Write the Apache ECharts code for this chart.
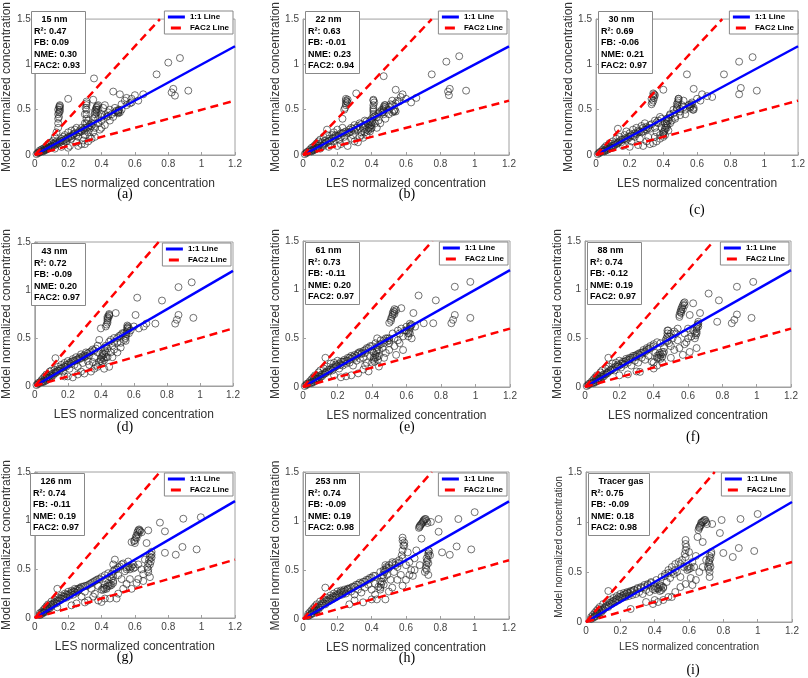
<!DOCTYPE html>
<html><head><meta charset="utf-8">
<script src="https://cdn.jsdelivr.net/npm/echarts@6/dist/echarts.min.js"></script>
<style>html,body{margin:0;padding:0;background:#fff}#c{width:808px;height:678px}</style>
</head><body><div id="c"></div>
<script>
// ---------- data ----------
const panelNames = ['15 nm','22 nm','30 nm','43 nm','61 nm','88 nm','126 nm','253 nm','Tracer gas'];
const r2Values   = ['0.47','0.63','0.69','0.72','0.73','0.74','0.74','0.74','0.75'];
const fbValues   = ['0.09','-0.01','-0.06','-0.09','-0.11','-0.12','-0.11','-0.09','-0.09'];
const nmeValues  = ['0.30','0.23','0.21','0.20','0.20','0.19','0.19','0.19','0.18'];
const fac2Values = ['0.93','0.94','0.97','0.97','0.97','0.97','0.97','0.98','0.98'];
const captions   = ['(a)','(b)','(c)','(d)','(e)','(f)','(g)','(h)','(i)'];
const xTickValues = [0,0.2,0.4,0.6,0.8,1,1.2];
const yTickValues = [0,0.5,1,1.5];
const oneToOneLine = [[0,0],[1.2,1.2]];
const fac2Upper = [[0,0],[0.75,1.5]];
const fac2Lower = [[0,0],[1.2,0.6]];

const dataA = [[0.01,0.01],[0.02,0.02],[0.02,0.03],[0.03,0.03],[0.03,0.05],[0.04,0.04],[0.04,0.06],[0.05,0.05],[0.05,0.07],[0.06,0.06],[0.06,0.08],[0.07,0.07],[0.07,0.1],[0.08,0.08],[0.08,0.12],[0.09,0.09],[0.09,0.13],[0.1,0.1],[0.1,0.14],[0.11,0.12],[0.11,0.16],[0.12,0.13],[0.12,0.2],[0.13,0.15],[0.13,0.25],[0.14,0.3],[0.14,0.35],[0.14,0.45],[0.14,0.5],[0.15,0.48],[0.15,0.52],[0.15,0.54],[0.15,0.16],[0.16,0.18],[0.17,0.2],[0.17,0.13],[0.18,0.22],[0.19,0.15],[0.2,0.2],[0.2,0.25],[0.2,0.62],[0.21,0.1],[0.22,0.18],[0.22,0.27],[0.23,0.22],[0.24,0.28],[0.25,0.14],[0.25,0.3],[0.26,0.2],[0.27,0.25],[0.28,0.12],[0.28,0.3],[0.29,0.16],[0.3,0.22],[0.3,0.35],[0.3,0.45],[0.31,0.5],[0.31,0.55],[0.31,0.59],[0.31,0.3],[0.32,0.38],[0.32,0.25],[0.33,0.33],[0.33,0.2],[0.34,0.35],[0.35,0.4],[0.35,0.61],[0.355,0.845],[0.36,0.3],[0.36,0.45],[0.37,0.5],[0.37,0.53],[0.38,0.55],[0.38,0.4],[0.38,0.35],[0.39,0.28],[0.4,0.45],[0.4,0.38],[0.41,0.52],[0.42,0.55],[0.43,0.42],[0.44,0.47],[0.45,0.5],[0.47,0.7],[0.48,0.52],[0.5,0.48],[0.5,0.49],[0.51,0.47],[0.51,0.67],[0.52,0.56],[0.54,0.6],[0.55,0.63],[0.57,0.57],[0.58,0.62],[0.6,0.66],[0.62,0.6],[0.65,0.67],[0.73,0.89],[0.80,1.02],[0.82,0.69],[0.83,0.73],[0.84,0.655],[0.87,1.07],[0.92,0.71],
 [0.145,0.47],[0.15,0.5],[0.145,0.53],[0.15,0.55],[0.14,0.4],[0.145,0.42],[0.31,0.35],[0.31,0.4],[0.31,0.45],[0.305,0.52],[0.31,0.57],[0.3,0.27],[0.36,0.48],[0.365,0.5],[0.37,0.52],[0.375,0.54],[0.38,0.5],[0.37,0.47],[0.36,0.42],[0.49,0.49],[0.5,0.47],[0.505,0.5],[0.5,0.46],
 [0.05,0.04],[0.06,0.05],[0.07,0.06],[0.08,0.07],[0.09,0.08],[0.1,0.09],[0.11,0.1],[0.12,0.11],[0.13,0.12],[0.14,0.13],[0.15,0.14],[0.16,0.15],[0.17,0.16],[0.18,0.17],[0.19,0.18],[0.2,0.19],[0.21,0.2],[0.22,0.21],[0.23,0.23],[0.24,0.24],[0.25,0.22],[0.26,0.25],[0.27,0.27],[0.28,0.26],[0.29,0.28],[0.3,0.3],[0.32,0.31],[0.33,0.29],[0.34,0.32],[0.35,0.34],[0.4,0.42],[0.42,0.44],[0.44,0.43],[0.46,0.45],[0.48,0.47],[0.3,0.12],[0.32,0.15],[0.34,0.18],[0.36,0.2],[0.26,0.1],[0.2,0.08],[0.16,0.09],[0.12,0.07],[0.35,0.25],[0.4,0.3],[0.42,0.33],[0.45,0.38],[0.47,0.42],[0.52,0.5],[0.55,0.55],[0.58,0.58]];
const dataB = [[0.01,0.01],[0.02,0.02],[0.02,0.03],[0.03,0.04],[0.04,0.04],[0.04,0.06],[0.05,0.05],[0.05,0.08],[0.06,0.06],[0.06,0.09],[0.07,0.07],[0.07,0.11],[0.08,0.08],[0.08,0.13],[0.09,0.1],[0.09,0.15],[0.1,0.07],[0.1,0.12],[0.1,0.17],[0.11,0.14],[0.12,0.2],[0.12,0.1],[0.13,0.16],[0.14,0.28],[0.14,0.22],[0.15,0.18],[0.16,0.12],[0.17,0.22],[0.18,0.25],[0.18,0.15],[0.19,0.2],[0.2,0.28],[0.21,0.17],[0.22,0.24],[0.23,0.4],[0.23,0.3],[0.24,0.2],[0.24,0.5],[0.25,0.55],[0.25,0.6],[0.26,0.58],[0.26,0.1],[0.27,0.25],[0.28,0.3],[0.29,0.22],[0.3,0.15],[0.3,0.33],[0.31,0.68],[0.32,0.14],[0.32,0.28],[0.33,0.35],[0.34,0.25],[0.35,0.19],[0.35,0.3],[0.36,0.38],[0.37,0.22],[0.38,0.3],[0.39,0.26],[0.39,0.35],[0.4,0.3],[0.4,0.4],[0.41,0.45],[0.41,0.5],[0.41,0.55],[0.41,0.61],[0.42,0.35],[0.43,0.42],[0.44,0.38],[0.45,0.48],[0.46,0.5],[0.47,0.53],[0.47,0.87],[0.47,0.45],[0.48,0.55],[0.5,0.5],[0.51,0.56],[0.52,0.6],[0.53,0.48],[0.54,0.72],[0.55,0.6],[0.57,0.64],[0.58,0.67],[0.6,0.62],[0.63,0.58],[0.66,0.63],[0.75,0.89],[0.835,1.03],[0.845,0.7],[0.85,0.66],[0.855,0.73],[0.91,1.09],[0.95,0.71],
 [0.245,0.52],[0.25,0.57],[0.255,0.59],[0.26,0.61],[0.25,0.62],[0.405,0.38],[0.41,0.42],[0.41,0.48],[0.41,0.52],[0.415,0.58],[0.41,0.6],[0.38,0.27],[0.385,0.3],[0.39,0.32],[0.395,0.29],[0.4,0.33],[0.4,0.36],[0.39,0.38],[0.38,0.34],[0.37,0.28],[0.36,0.25],[0.465,0.47],[0.47,0.49],[0.47,0.51],[0.475,0.55],[0.48,0.53],[0.52,0.47],[0.53,0.49],[0.535,0.5],[0.54,0.48],
 [0.05,0.04],[0.06,0.05],[0.07,0.06],[0.08,0.07],[0.09,0.08],[0.11,0.1],[0.12,0.12],[0.13,0.13],[0.14,0.14],[0.15,0.15],[0.16,0.16],[0.17,0.18],[0.18,0.19],[0.19,0.22],[0.2,0.21],[0.21,0.22],[0.22,0.2],[0.23,0.24],[0.24,0.25],[0.25,0.26],[0.26,0.24],[0.27,0.28],[0.28,0.26],[0.29,0.29],[0.3,0.27],[0.31,0.3],[0.32,0.32],[0.33,0.3],[0.34,0.34],[0.36,0.33],[0.37,0.37],[0.42,0.43],[0.44,0.46],[0.46,0.47],[0.5,0.53],[0.52,0.55],[0.54,0.57],[0.56,0.59],[0.33,0.2],[0.34,0.22],[0.28,0.18],[0.25,0.15],[0.22,0.12],[0.2,0.1],[0.15,0.09],[0.43,0.3],[0.45,0.35],[0.48,0.4],[0.5,0.45]];
const dataC = [[0.01,0.01],[0.02,0.02],[0.02,0.03],[0.03,0.04],[0.04,0.04],[0.04,0.06],[0.05,0.05],[0.05,0.08],[0.06,0.07],[0.06,0.1],[0.07,0.08],[0.08,0.09],[0.08,0.13],[0.09,0.1],[0.1,0.08],[0.1,0.15],[0.11,0.13],[0.12,0.18],[0.13,0.29],[0.13,0.14],[0.14,0.2],[0.15,0.17],[0.16,0.1],[0.17,0.22],[0.18,0.26],[0.19,0.18],[0.2,0.24],[0.21,0.15],[0.22,0.28],[0.23,0.2],[0.24,0.3],[0.25,0.25],[0.26,0.18],[0.27,0.32],[0.28,0.1],[0.28,0.26],[0.29,0.35],[0.3,0.28],[0.31,0.2],[0.32,0.33],[0.33,0.56],[0.33,0.62],[0.34,0.65],[0.34,0.68],[0.34,0.13],[0.35,0.38],[0.35,0.3],[0.36,0.25],[0.37,0.35],[0.38,0.18],[0.38,0.42],[0.39,0.3],[0.4,0.72],[0.4,0.25],[0.41,0.22],[0.41,0.3],[0.42,0.35],[0.42,0.4],[0.43,0.27],[0.44,0.45],[0.45,0.38],[0.46,0.5],[0.47,0.42],[0.48,0.5],[0.48,0.56],[0.49,0.62],[0.5,0.48],[0.51,0.55],[0.52,0.6],[0.53,0.5],[0.54,0.89],[0.55,0.55],[0.56,0.52],[0.57,0.56],[0.58,0.73],[0.58,0.5],[0.6,0.62],[0.62,0.6],[0.63,0.67],[0.66,0.65],[0.69,0.64],[0.76,0.89],[0.85,1.03],[0.85,0.67],[0.86,0.74],[0.93,1.08],[0.955,0.71],
 [0.335,0.58],[0.34,0.6],[0.345,0.63],[0.35,0.66],[0.345,0.67],[0.4,0.23],[0.405,0.26],[0.41,0.28],[0.415,0.32],[0.42,0.3],[0.42,0.37],[0.425,0.33],[0.43,0.38],[0.43,0.41],[0.41,0.35],[0.48,0.52],[0.485,0.54],[0.485,0.58],[0.49,0.6],[0.49,0.62],[0.555,0.53],[0.56,0.56],[0.565,0.54],[0.57,0.58],[0.575,0.5],[0.58,0.52],
 [0.05,0.04],[0.06,0.05],[0.07,0.06],[0.08,0.07],[0.09,0.08],[0.1,0.1],[0.11,0.11],[0.12,0.12],[0.13,0.13],[0.14,0.15],[0.15,0.14],[0.16,0.17],[0.17,0.18],[0.18,0.17],[0.19,0.2],[0.2,0.2],[0.21,0.22],[0.22,0.21],[0.23,0.24],[0.24,0.23],[0.25,0.27],[0.26,0.26],[0.27,0.25],[0.28,0.3],[0.29,0.28],[0.3,0.31],[0.31,0.3],[0.32,0.29],[0.33,0.34],[0.36,0.36],[0.37,0.38],[0.39,0.4],[0.44,0.44],[0.46,0.46],[0.5,0.51],[0.52,0.53],[0.3,0.15],[0.32,0.12],[0.36,0.15],[0.35,0.2],[0.38,0.22],[0.4,0.2],[0.2,0.09],[0.25,0.11],[0.44,0.35],[0.47,0.4],[0.5,0.44],[0.53,0.45]];
const dataD = [[0.01,0.01],[0.02,0.02],[0.02,0.03],[0.03,0.04],[0.04,0.04],[0.04,0.06],[0.05,0.05],[0.05,0.08],[0.06,0.07],[0.06,0.1],[0.07,0.08],[0.07,0.12],[0.08,0.09],[0.09,0.11],[0.09,0.15],[0.1,0.1],[0.1,0.16],[0.11,0.13],[0.12,0.17],[0.125,0.29],[0.13,0.15],[0.14,0.2],[0.15,0.18],[0.16,0.22],[0.17,0.15],[0.18,0.1],[0.18,0.24],[0.19,0.2],[0.2,0.26],[0.21,0.18],[0.22,0.25],[0.23,0.09],[0.23,0.28],[0.24,0.22],[0.25,0.3],[0.26,0.2],[0.27,0.28],[0.28,0.33],[0.29,0.24],[0.3,0.13],[0.3,0.3],[0.31,0.35],[0.32,0.26],[0.33,0.32],[0.34,0.15],[0.35,0.38],[0.36,0.3],[0.37,0.22],[0.38,0.42],[0.38,0.35],[0.39,0.48],[0.4,0.28],[0.4,0.6],[0.41,0.32],[0.41,0.25],[0.42,0.18],[0.42,0.4],[0.43,0.3],[0.43,0.62],[0.44,0.68],[0.44,0.72],[0.45,0.74],[0.45,0.46],[0.45,0.2],[0.46,0.35],[0.47,0.42],[0.48,0.5],[0.49,0.76],[0.5,0.45],[0.51,0.52],[0.52,0.4],[0.53,0.55],[0.54,0.48],[0.55,0.5],[0.555,0.56],[0.56,0.6],[0.56,0.63],[0.57,0.55],[0.58,0.58],[0.6,0.62],[0.61,0.74],[0.62,0.92],[0.63,0.6],[0.66,0.62],[0.675,0.65],[0.73,0.65],[0.77,0.89],[0.85,0.65],[0.86,0.69],[0.87,0.74],[0.87,1.03],[0.95,1.08],[0.96,0.71],
 [0.435,0.64],[0.44,0.66],[0.44,0.7],[0.445,0.71],[0.45,0.73],[0.45,0.75],[0.55,0.47],[0.55,0.52],[0.555,0.54],[0.56,0.58],[0.56,0.61],[0.565,0.62],[0.57,0.6],[0.4,0.26],[0.405,0.3],[0.41,0.34],[0.415,0.29],[0.42,0.27],[0.42,0.33],[0.425,0.37],[0.43,0.35],[0.43,0.42],[0.44,0.39],[0.44,0.3],
 [0.05,0.04],[0.06,0.05],[0.07,0.06],[0.08,0.08],[0.09,0.09],[0.1,0.12],[0.11,0.11],[0.12,0.13],[0.13,0.14],[0.14,0.16],[0.15,0.16],[0.16,0.18],[0.17,0.19],[0.18,0.2],[0.19,0.22],[0.2,0.22],[0.21,0.24],[0.22,0.23],[0.23,0.26],[0.24,0.26],[0.25,0.27],[0.26,0.28],[0.27,0.3],[0.28,0.29],[0.29,0.31],[0.3,0.32],[0.31,0.31],[0.32,0.34],[0.33,0.35],[0.34,0.36],[0.36,0.37],[0.37,0.39],[0.46,0.48],[0.48,0.46],[0.5,0.5],[0.52,0.53],[0.54,0.55],[0.33,0.22],[0.35,0.25],[0.36,0.18],[0.38,0.2],[0.39,0.25],[0.47,0.3],[0.48,0.38],[0.5,0.35],[0.52,0.45],[0.2,0.1],[0.26,0.12],[0.28,0.15]];
const dataE = [[0.01,0.01],[0.02,0.02],[0.02,0.03],[0.03,0.04],[0.04,0.04],[0.04,0.06],[0.05,0.05],[0.05,0.08],[0.06,0.07],[0.06,0.1],[0.07,0.08],[0.07,0.12],[0.08,0.09],[0.09,0.11],[0.09,0.15],[0.1,0.1],[0.1,0.17],[0.11,0.13],[0.12,0.19],[0.13,0.3],[0.13,0.15],[0.14,0.21],[0.15,0.18],[0.16,0.24],[0.17,0.17],[0.18,0.12],[0.18,0.25],[0.19,0.21],[0.2,0.27],[0.21,0.19],[0.22,0.26],[0.23,0.22],[0.24,0.28],[0.25,0.11],[0.25,0.24],[0.26,0.3],[0.27,0.25],[0.28,0.32],[0.29,0.22],[0.3,0.3],[0.31,0.27],[0.32,0.14],[0.32,0.34],[0.33,0.29],[0.34,0.35],[0.35,0.3],[0.36,0.38],[0.37,0.25],[0.38,0.16],[0.38,0.4],[0.39,0.32],[0.4,0.42],[0.41,0.28],[0.41,0.35],[0.42,0.3],[0.42,0.45],[0.43,0.38],[0.43,0.5],[0.44,0.21],[0.44,0.32],[0.45,0.44],[0.46,0.4],[0.47,0.48],[0.48,0.35],[0.49,0.5],[0.5,0.45],[0.5,0.66],[0.51,0.7],[0.52,0.74],[0.53,0.77],[0.53,0.8],[0.53,0.5],[0.54,0.33],[0.55,0.48],[0.56,0.55],[0.57,0.81],[0.57,0.6],[0.58,0.38],[0.58,0.52],[0.59,0.58],[0.6,0.62],[0.61,0.55],[0.62,0.6],[0.62,0.65],[0.63,0.5],[0.64,0.76],[0.65,0.62],[0.67,0.94],[0.7,0.655],[0.755,0.655],[0.77,0.89],[0.86,0.655],[0.87,0.69],[0.88,0.74],[0.88,1.03],[0.97,1.08],[0.97,0.71],
 [0.51,0.68],[0.515,0.72],[0.52,0.76],[0.525,0.78],[0.53,0.75],[0.54,0.79],[0.61,0.52],[0.615,0.57],[0.62,0.62],[0.62,0.55],[0.625,0.63],[0.63,0.64],[0.6,0.58],[0.41,0.3],[0.415,0.26],[0.42,0.33],[0.425,0.36],[0.43,0.31],[0.43,0.41],[0.435,0.28],[0.44,0.38],[0.44,0.43],[0.47,0.45],[0.48,0.5],[0.49,0.47],[0.5,0.5],[0.5,0.48],
 [0.05,0.04],[0.06,0.05],[0.07,0.06],[0.08,0.08],[0.09,0.09],[0.1,0.12],[0.11,0.11],[0.12,0.13],[0.13,0.14],[0.14,0.16],[0.15,0.16],[0.16,0.18],[0.17,0.2],[0.18,0.2],[0.19,0.23],[0.2,0.22],[0.21,0.24],[0.22,0.23],[0.23,0.26],[0.24,0.26],[0.25,0.27],[0.26,0.27],[0.27,0.3],[0.28,0.29],[0.29,0.31],[0.3,0.33],[0.31,0.32],[0.32,0.35],[0.33,0.36],[0.34,0.34],[0.35,0.37],[0.36,0.35],[0.37,0.4],[0.39,0.42],[0.4,0.37],[0.45,0.48],[0.52,0.55],[0.55,0.58],[0.36,0.22],[0.35,0.18],[0.4,0.25],[0.47,0.3],[0.5,0.38],[0.53,0.42],[0.56,0.45],[0.28,0.12],[0.22,0.1]];
const dataF = [[0.01,0.01],[0.02,0.02],[0.02,0.03],[0.03,0.04],[0.04,0.04],[0.04,0.06],[0.05,0.05],[0.05,0.08],[0.06,0.07],[0.06,0.1],[0.07,0.08],[0.07,0.12],[0.08,0.09],[0.09,0.11],[0.09,0.15],[0.1,0.1],[0.1,0.17],[0.11,0.13],[0.12,0.19],[0.136,0.3],[0.13,0.15],[0.14,0.21],[0.15,0.18],[0.16,0.24],[0.17,0.17],[0.18,0.25],[0.19,0.21],[0.2,0.12],[0.2,0.27],[0.21,0.2],[0.22,0.26],[0.23,0.23],[0.24,0.29],[0.25,0.25],[0.26,0.3],[0.27,0.22],[0.28,0.32],[0.29,0.27],[0.3,0.33],[0.31,0.25],[0.32,0.155],[0.32,0.35],[0.33,0.3],[0.34,0.36],[0.35,0.28],[0.36,0.38],[0.37,0.32],[0.38,0.4],[0.39,0.26],[0.4,0.19],[0.4,0.42],[0.41,0.35],[0.42,0.3],[0.43,0.33],[0.44,0.29],[0.44,0.45],[0.45,0.36],[0.46,0.4],[0.47,0.48],[0.48,0.52],[0.48,0.58],[0.49,0.45],[0.5,0.42],[0.51,0.5],[0.52,0.38],[0.53,0.55],[0.54,0.48],[0.55,0.72],[0.56,0.76],[0.56,0.8],[0.57,0.84],[0.57,0.33],[0.58,0.87],[0.58,0.55],[0.59,0.46],[0.6,0.6],[0.61,0.36],[0.61,0.74],[0.62,0.52],[0.63,0.86],[0.63,0.58],[0.64,0.5],[0.65,0.4],[0.65,0.55],[0.65,0.62],[0.66,0.67],[0.67,0.76],[0.72,0.96],[0.77,0.67],[0.78,0.89],[0.855,0.655],[0.87,0.69],[0.885,0.745],[0.885,1.03],[0.97,0.71],[0.98,1.08],
 [0.55,0.74],[0.555,0.77],[0.56,0.78],[0.565,0.82],[0.57,0.8],[0.575,0.86],[0.58,0.84],[0.645,0.53],[0.65,0.57],[0.65,0.6],[0.655,0.64],[0.66,0.62],[0.66,0.65],[0.64,0.55],[0.475,0.5],[0.48,0.55],[0.485,0.58],[0.48,0.47],[0.49,0.52],[0.42,0.32],[0.43,0.3],[0.435,0.35],[0.44,0.33],[0.45,0.31],[0.455,0.34],[0.46,0.36],
 [0.05,0.04],[0.06,0.05],[0.07,0.06],[0.08,0.08],[0.09,0.09],[0.1,0.12],[0.11,0.11],[0.12,0.13],[0.13,0.14],[0.14,0.16],[0.15,0.17],[0.16,0.18],[0.17,0.2],[0.18,0.21],[0.19,0.23],[0.2,0.22],[0.21,0.24],[0.22,0.24],[0.23,0.26],[0.24,0.27],[0.25,0.28],[0.26,0.28],[0.27,0.3],[0.28,0.3],[0.29,0.32],[0.3,0.31],[0.31,0.34],[0.32,0.33],[0.33,0.35],[0.34,0.38],[0.35,0.36],[0.36,0.4],[0.37,0.39],[0.38,0.42],[0.4,0.44],[0.42,0.46],[0.5,0.55],[0.52,0.57],[0.54,0.6],[0.4,0.25],[0.42,0.22],[0.45,0.25],[0.5,0.3],[0.55,0.4],[0.58,0.44],[0.6,0.5],[0.3,0.16],[0.25,0.13]];
const dataG = [[0.03,0.03],[0.03,0.05],[0.04,0.04],[0.04,0.06],[0.05,0.05],[0.05,0.08],[0.06,0.06],[0.06,0.1],[0.07,0.08],[0.07,0.12],[0.08,0.09],[0.08,0.14],[0.09,0.1],[0.1,0.12],[0.1,0.17],[0.11,0.14],[0.12,0.19],[0.13,0.15],[0.135,0.3],[0.135,0.11],[0.14,0.21],[0.15,0.18],[0.16,0.23],[0.17,0.2],[0.18,0.25],[0.19,0.21],[0.2,0.27],[0.21,0.23],[0.22,0.13],[0.22,0.28],[0.23,0.24],[0.24,0.3],[0.25,0.26],[0.26,0.28],[0.27,0.3],[0.28,0.22],[0.29,0.32],[0.3,0.27],[0.31,0.33],[0.32,0.18],[0.33,0.35],[0.34,0.3],[0.35,0.37],[0.36,0.25],[0.37,0.39],[0.38,0.33],[0.39,0.4],[0.4,0.165],[0.4,0.29],[0.41,0.31],[0.42,0.34],[0.43,0.3],[0.44,0.36],[0.45,0.33],[0.45,0.42],[0.46,0.45],[0.47,0.38],[0.47,0.48],[0.47,0.55],[0.48,0.6],[0.49,0.2],[0.49,0.5],[0.5,0.44],[0.51,0.53],[0.52,0.4],[0.53,0.56],[0.54,0.48],[0.55,0.52],[0.56,0.58],[0.57,0.5],[0.58,0.78],[0.58,0.3],[0.59,0.55],[0.6,0.77],[0.61,0.82],[0.61,0.36],[0.62,0.86],[0.62,0.55],[0.63,0.9],[0.64,0.5],[0.65,0.45],[0.66,0.6],[0.67,0.77],[0.68,0.9],[0.68,0.5],[0.69,0.42],[0.69,0.55],[0.7,0.62],[0.7,0.68],[0.75,0.98],[0.78,0.89],[0.78,0.67],[0.845,0.65],[0.885,0.73],[0.89,1.02],[0.97,0.705],[0.995,1.035],
 [0.595,0.79],[0.6,0.8],[0.605,0.83],[0.61,0.85],[0.615,0.88],[0.62,0.9],[0.625,0.91],[0.63,0.89],[0.64,0.88],[0.675,0.52],[0.68,0.56],[0.685,0.6],[0.69,0.63],[0.69,0.66],[0.695,0.58],[0.7,0.65],[0.68,0.47],[0.41,0.29],[0.42,0.3],[0.43,0.32],[0.44,0.33],[0.45,0.35],[0.46,0.34],[0.47,0.36],[0.46,0.4],[0.47,0.43],[0.55,0.5],[0.56,0.53],[0.57,0.52],[0.58,0.53],[0.59,0.51],[0.6,0.52],
 [0.05,0.06],[0.06,0.07],[0.07,0.09],[0.08,0.1],[0.09,0.12],[0.1,0.14],[0.11,0.15],[0.12,0.16],[0.13,0.17],[0.14,0.18],[0.15,0.2],[0.16,0.2],[0.17,0.22],[0.18,0.22],[0.19,0.24],[0.2,0.24],[0.21,0.25],[0.22,0.26],[0.23,0.27],[0.24,0.27],[0.25,0.29],[0.26,0.3],[0.27,0.31],[0.28,0.32],[0.3,0.33],[0.32,0.34],[0.34,0.36],[0.36,0.38],[0.38,0.4],[0.4,0.42],[0.42,0.44],[0.44,0.46],[0.48,0.5],[0.5,0.52],[0.52,0.55],[0.35,0.22],[0.38,0.18],[0.42,0.2],[0.45,0.2],[0.5,0.25],[0.53,0.3],[0.55,0.35],[0.57,0.4],[0.3,0.16],[0.25,0.15],[0.62,0.4],[0.65,0.38]];
const dataH = [[0.03,0.03],[0.03,0.05],[0.04,0.04],[0.04,0.07],[0.05,0.05],[0.05,0.09],[0.06,0.06],[0.06,0.11],[0.07,0.08],[0.07,0.13],[0.08,0.09],[0.08,0.15],[0.09,0.1],[0.1,0.12],[0.1,0.18],[0.11,0.14],[0.12,0.2],[0.13,0.32],[0.13,0.15],[0.14,0.22],[0.15,0.18],[0.16,0.24],[0.17,0.2],[0.18,0.26],[0.19,0.22],[0.2,0.28],[0.21,0.24],[0.22,0.29],[0.23,0.25],[0.24,0.3],[0.25,0.26],[0.26,0.31],[0.27,0.15],[0.28,0.28],[0.29,0.33],[0.3,0.25],[0.31,0.35],[0.32,0.3],[0.33,0.37],[0.34,0.27],[0.35,0.38],[0.36,0.32],[0.37,0.4],[0.38,0.35],[0.39,0.42],[0.4,0.3],[0.41,0.44],[0.42,0.36],[0.43,0.2],[0.44,0.33],[0.45,0.38],[0.45,0.48],[0.46,0.42],[0.47,0.5],[0.47,0.35],[0.48,0.2],[0.48,0.55],[0.49,0.45],[0.5,0.52],[0.51,0.4],[0.52,0.56],[0.53,0.48],[0.54,0.58],[0.55,0.53],[0.56,0.6],[0.57,0.45],[0.58,0.34],[0.58,0.83],[0.58,0.62],[0.59,0.75],[0.6,0.55],[0.61,0.68],[0.62,0.58],[0.63,0.5],[0.64,0.44],[0.65,0.62],[0.66,0.7],[0.68,0.94],[0.69,0.82],[0.69,0.97],[0.7,1.0],[0.71,1.02],[0.72,0.5],[0.72,0.58],[0.73,0.45],[0.73,0.65],[0.73,0.7],[0.745,0.99],[0.79,0.89],[0.79,1.02],[0.81,0.68],[0.855,0.655],[0.895,0.74],[0.905,1.02],[0.98,0.71],[1.0,1.09],
 [0.675,0.93],[0.68,0.95],[0.685,0.96],[0.695,0.98],[0.7,0.99],[0.705,1.01],[0.715,1.02],[0.72,1.0],[0.725,0.98],[0.715,0.52],[0.72,0.55],[0.72,0.62],[0.725,0.6],[0.73,0.67],[0.73,0.57],[0.735,0.69],[0.74,0.65],[0.71,0.48],[0.45,0.32],[0.455,0.35],[0.46,0.38],[0.465,0.45],[0.47,0.42],[0.475,0.48],[0.48,0.5],[0.485,0.53],[0.49,0.52],[0.45,0.3],[0.575,0.65],[0.58,0.7],[0.585,0.75],[0.59,0.78],[0.58,0.8],
 [0.05,0.06],[0.06,0.08],[0.07,0.09],[0.08,0.1],[0.09,0.12],[0.1,0.14],[0.11,0.16],[0.12,0.16],[0.13,0.18],[0.14,0.19],[0.15,0.2],[0.16,0.21],[0.17,0.22],[0.18,0.23],[0.19,0.24],[0.2,0.25],[0.21,0.26],[0.22,0.27],[0.23,0.28],[0.24,0.28],[0.25,0.29],[0.26,0.3],[0.27,0.31],[0.28,0.32],[0.3,0.33],[0.32,0.35],[0.34,0.36],[0.36,0.38],[0.38,0.4],[0.4,0.42],[0.42,0.44],[0.5,0.55],[0.52,0.58],[0.54,0.55],[0.56,0.57],[0.4,0.2],[0.42,0.25],[0.5,0.28],[0.52,0.32],[0.55,0.4],[0.6,0.4],[0.62,0.45],[0.65,0.5],[0.35,0.17],[0.3,0.19],[0.68,0.55]];
const dataI = [[0.03,0.03],[0.03,0.05],[0.04,0.04],[0.04,0.07],[0.05,0.05],[0.05,0.09],[0.06,0.06],[0.06,0.11],[0.07,0.08],[0.07,0.13],[0.08,0.09],[0.08,0.15],[0.09,0.1],[0.1,0.12],[0.1,0.18],[0.11,0.14],[0.12,0.2],[0.13,0.31],[0.13,0.15],[0.14,0.22],[0.15,0.18],[0.16,0.24],[0.17,0.2],[0.18,0.26],[0.19,0.22],[0.2,0.28],[0.21,0.24],[0.22,0.29],[0.23,0.25],[0.24,0.3],[0.25,0.26],[0.26,0.13],[0.26,0.31],[0.27,0.27],[0.28,0.32],[0.29,0.28],[0.3,0.34],[0.31,0.3],[0.32,0.35],[0.33,0.28],[0.34,0.37],[0.35,0.32],[0.36,0.38],[0.37,0.3],[0.38,0.4],[0.39,0.18],[0.39,0.33],[0.4,0.36],[0.41,0.42],[0.42,0.34],[0.43,0.37],[0.44,0.45],[0.45,0.35],[0.46,0.48],[0.47,0.4],[0.48,0.52],[0.49,0.44],[0.5,0.25],[0.5,0.55],[0.51,0.48],[0.52,0.58],[0.53,0.5],[0.54,0.6],[0.55,0.45],[0.56,0.62],[0.57,0.55],[0.58,0.82],[0.58,0.65],[0.59,0.52],[0.6,0.7],[0.61,0.44],[0.62,0.37],[0.62,0.6],[0.63,0.55],[0.64,0.66],[0.65,0.85],[0.66,0.94],[0.67,0.97],[0.68,0.8],[0.68,1.0],[0.69,1.02],[0.7,0.62],[0.71,0.55],[0.72,0.45],[0.72,0.5],[0.72,0.66],[0.73,0.7],[0.735,0.98],[0.78,0.89],[0.79,1.02],[0.8,0.69],[0.855,0.65],[0.89,0.74],[0.9,1.03],[0.98,0.71],[1.0,1.08],
 [0.655,0.92],[0.66,0.95],[0.665,0.96],[0.67,0.99],[0.675,1.0],[0.685,1.01],[0.695,1.02],[0.7,1.0],[0.705,0.98],[0.715,0.53],[0.72,0.58],[0.72,0.62],[0.725,0.64],[0.73,0.68],[0.725,0.55],[0.715,0.6],[0.4,0.32],[0.41,0.34],[0.42,0.33],[0.43,0.35],[0.44,0.36],[0.45,0.34],[0.44,0.32],[0.43,0.31],[0.575,0.68],[0.58,0.72],[0.585,0.75],[0.58,0.78],[0.59,0.55],[0.6,0.56],[0.61,0.54],[0.6,0.53],
 [0.05,0.06],[0.06,0.08],[0.07,0.09],[0.08,0.11],[0.09,0.12],[0.1,0.13],[0.11,0.15],[0.12,0.16],[0.13,0.17],[0.14,0.19],[0.15,0.2],[0.16,0.21],[0.17,0.22],[0.18,0.23],[0.19,0.25],[0.2,0.25],[0.21,0.26],[0.22,0.27],[0.23,0.28],[0.24,0.29],[0.25,0.29],[0.26,0.3],[0.27,0.31],[0.28,0.32],[0.3,0.33],[0.32,0.34],[0.34,0.35],[0.36,0.37],[0.38,0.39],[0.46,0.46],[0.48,0.49],[0.5,0.5],[0.52,0.52],[0.55,0.58],[0.4,0.22],[0.42,0.2],[0.45,0.22],[0.48,0.25],[0.52,0.3],[0.55,0.35],[0.58,0.38],[0.64,0.42],[0.66,0.5],[0.68,0.55],[0.35,0.2]];
const panelData = [dataA,dataB,dataC,dataD,dataE,dataF,dataG,dataH,dataI];

// ---------- layout ----------
const layout = [
  {l:29,t:10,w:206,h:145, cx:125,cy:194},
  {l:303,t:10,w:206,h:145, cx:407,cy:194},
  {l:596,t:10,w:204,h:145, cx:697,cy:210},
  {l:29,t:242,w:204,h:144, cx:125,cy:427},
  {l:303,t:241,w:207,h:146, cx:407,cy:427},
  {l:585,t:241,w:206,h:146, cx:693,cy:437},
  {l:28,t:472,w:207,h:146, cx:125,cy:657},
  {l:303,t:472,w:206,h:147, cx:407,cy:658},
  {l:586,t:472,w:206,h:150, cx:693,cy:670}
];
const FONT = '"Liberation Sans", Arial, sans-serif';

const grid=[], xAxis=[], yAxis=[], series=[], legend=[], title=[], graphic=[];
layout.forEach((g,i)=>{
  const small = i===8;
  grid.push({left:g.l, top:g.t, width:g.w, height:g.h, show:true, borderColor:'#a0a0a0', borderWidth:1, backgroundColor:'#fff'});
  xAxis.push({type:'value', gridIndex:i, min:xTickValues[0], max:xTickValues[xTickValues.length-1], interval:0.2,
    name:'LES normalized concentration', nameLocation:'middle', nameGap: small?20:23,
    nameTextStyle:{fontSize: small?10.5:12, color:'#333', fontFamily:FONT},
    axisLine:{show:true, lineStyle:{color:'#a0a0a0'}}, axisTick:{inside:true, length:3, lineStyle:{color:'#a0a0a0'}},
    axisLabel:{fontSize:10, color:'#444', margin:4, fontFamily:FONT}, splitLine:{show:false}});
  yAxis.push({type:'value', gridIndex:i, min:yTickValues[0], max:yTickValues[yTickValues.length-1], interval:0.5,
    name:'Model normalized concentration', nameLocation:'middle', nameGap: small?20:21,
    nameTextStyle:{fontSize: small?10:12, color:'#333', fontFamily:FONT},
    axisLine:{show:true, lineStyle:{color:'#a0a0a0'}}, axisTick:{inside:true, length:3, lineStyle:{color:'#a0a0a0'}},
    axisLabel:{fontSize:10, color:'#444', margin:4, fontFamily:FONT}, splitLine:{show:false}});
  series.push({type:'scatter', xAxisIndex:i, yAxisIndex:i, data:panelData[i], symbol:'circle', symbolSize:7,
    itemStyle:{color:'rgba(0,0,0,0)', borderColor:'#222', borderWidth:0.8}, silent:true, z:2});
  series.push({type:'line', name:'1:1 Line', xAxisIndex:i, yAxisIndex:i, data:oneToOneLine, symbol:'none',
    lineStyle:{color:'#0000ff', width:2.5}, itemStyle:{color:'#0000ff'}, silent:true, z:3});
  series.push({type:'line', name:'FAC2 Line', xAxisIndex:i, yAxisIndex:i, data:fac2Upper, symbol:'none',
    lineStyle:{color:'#ff0000', width:2.5, type:[8,5]}, itemStyle:{color:'#ff0000'}, silent:true, z:3});
  series.push({type:'line', name:'FAC2 Line', xAxisIndex:i, yAxisIndex:i, data:fac2Lower, symbol:'none',
    lineStyle:{color:'#ff0000', width:2.5, type:[8,5]}, itemStyle:{color:'#ff0000'}, silent:true, z:3});
  legend.push({right:808-(g.l+g.w)+2, top:g.t+1, orient:'vertical', selectedMode:false,
    data:[{name:'1:1 Line', lineStyle:{color:'#0000ff', width:3, type:'solid'}},
          {name:'FAC2 Line', lineStyle:{color:'#ff0000', width:3, type:[0,3,10,20]}}],
    itemStyle:{color:'rgba(0,0,0,0)', borderWidth:0, opacity:0},
    itemWidth:17, itemHeight:8, itemGap:3, padding:[2,4,2,2], borderColor:'#888', borderWidth:1, backgroundColor:'#fff',
    textStyle:{fontSize:8, fontWeight:'bold', color:'#000', fontFamily:FONT}, z:10});
  title.push({left:g.l+2, top:g.t+1,
    text:'   '+panelNames[i]+'\nR²: '+r2Values[i]+'\nFB: '+fbValues[i]+'\nNME: '+nmeValues[i]+'\nFAC2: '+fac2Values[i],
    textStyle:{fontSize:9, fontWeight:'bold', color:'#000', lineHeight:11.5, fontFamily:FONT},
    borderColor:'#888', borderWidth:1, backgroundColor:'#fff', padding:[3,6,2,3], z:10});
  graphic.push({type:'text', x:g.cx, y:g.cy, style:{text:captions[i], font:'14px "Liberation Serif", "Times New Roman", serif', fill:'#000', textAlign:'center', textVerticalAlign:'middle'}});
});

const chart = echarts.init(document.getElementById('c'), null, {renderer:'canvas'});
chart.setOption({animation:false, backgroundColor:'#fff', grid, xAxis, yAxis, series, legend, title, graphic});
</script></body></html>
